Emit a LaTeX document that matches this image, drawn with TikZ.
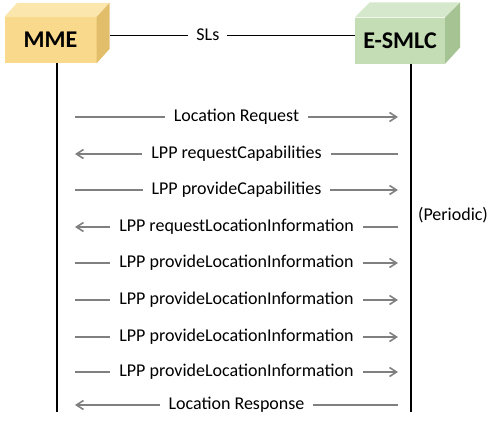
\documentclass[tikz,border=0pt]{standalone}
\usepackage{fontspec}
\setmainfont{Carlito}
\usetikzlibrary{arrows.meta,positioning,calc}
\definecolor{mmefront}{HTML}{F9D98C}
\definecolor{mmetop}{HTML}{FBE6AE}
\definecolor{mmeside}{HTML}{E2BE6A}
\definecolor{smlcfront}{HTML}{C4DDB4}
\definecolor{smlctop}{HTML}{D6E8CB}
\definecolor{smlcside}{HTML}{A6C493}
\definecolor{msggrey}{HTML}{808080}
\tikzset{
  entity/.style={minimum width=92pt, minimum height=46pt, inner sep=0pt,
                 font=\fontsize{24}{28}\selectfont\bfseries},
  lifeline/.style={line width=1.2pt, draw=black},
  msg/.style={line width=1.6pt, draw=msggrey, -{Straight Barb[length=7pt,width=9pt]}},
  msgtext/.style={fill=white, inner xsep=9pt, inner ysep=1pt,
                  font=\fontsize{18}{21}\selectfont},
  note/.style={font=\fontsize{18}{21}\selectfont},
}

\begin{document}
\begin{tikzpicture}[x=1pt,y=-1pt]
\useasboundingbox (0,0) rectangle (500,423);

% the two boxes
\node[entity, fill=mmefront] (mme) at (50.5,40) {MME};
\fill[mmetop] (mme.north west) -- ++(13,-14) -- ($(mme.north east)+(13,-14)$) -- (mme.north east) -- cycle;
\fill[mmeside] (mme.north east) -- ++(13,-14) -- ++(0,46) -- (mme.south east) -- cycle;

\node[entity, fill=smlcfront, minimum width=90pt] (smlc) at (400,40.5) {E-SMLC};
\fill[smlctop] (smlc.north west) -- ++(15,-15) -- ($(smlc.north east)+(15,-15)$) -- (smlc.north east) -- cycle;
\fill[smlcside] (smlc.north east) -- ++(15,-15) -- ++(0,45) -- (smlc.south east) -- cycle;

% SLs interface
\coordinate (sl-a) at (110,35);
\coordinate (sl-b) at (smlc.west |- sl-a);
\draw[line width=0.8pt] (sl-a) -- node[msgtext, pos=0.4, inner xsep=8pt] {SLs} (sl-b);

% lifelines
\coordinate (mme-end) at (57,412);
\coordinate (smlc-end) at (411,412);
\draw[lifeline] (mme.south -| mme-end) -- (mme-end);
\draw[lifeline] (smlc.south -| smlc-end) -- (smlc-end);

% message end points
\coordinate (l1) at (75,117);  \coordinate (r1) at (398,117);
\coordinate (l2) at (75,154);  \coordinate (r2) at (398,154);
\coordinate (l3) at (75,190);  \coordinate (r3) at (398,190);
\coordinate (l4) at (75,227);  \coordinate (r4) at (398,227);
\coordinate (l5) at (75,263);  \coordinate (r5) at (398,263);
\coordinate (l6) at (75,300);  \coordinate (r6) at (398,300);
\coordinate (l7) at (75,337);  \coordinate (r7) at (398,337);
\coordinate (l8) at (75,372);  \coordinate (r8) at (398,372);
\coordinate (l9) at (75,405);  \coordinate (r9) at (398,405);

\draw[msg] (l1) -- node[msgtext] {Location Request} (r1);
\draw[msg] (r2) -- node[msgtext] {LPP requestCapabilities} (l2);
\draw[msg] (l3) -- node[msgtext] {LPP provideCapabilities} (r3);
\draw[msg] (r4) -- node[msgtext] {LPP requestLocationInformation} (l4);
\draw[msg] (l5) -- node[msgtext] {LPP provideLocationInformation} (r5);
\draw[msg] (l6) -- node[msgtext] {LPP provideLocationInformation} (r6);
\draw[msg] (l7) -- node[msgtext] {LPP provideLocationInformation} (r7);
\draw[msg] (l8) -- node[msgtext] {LPP provideLocationInformation} (r8);
\draw[msg] (r9) -- node[msgtext] {Location Response} (l9);

\node[note] (periodic) at (453,215) {(Periodic)};

\end{tikzpicture}
\end{document}
